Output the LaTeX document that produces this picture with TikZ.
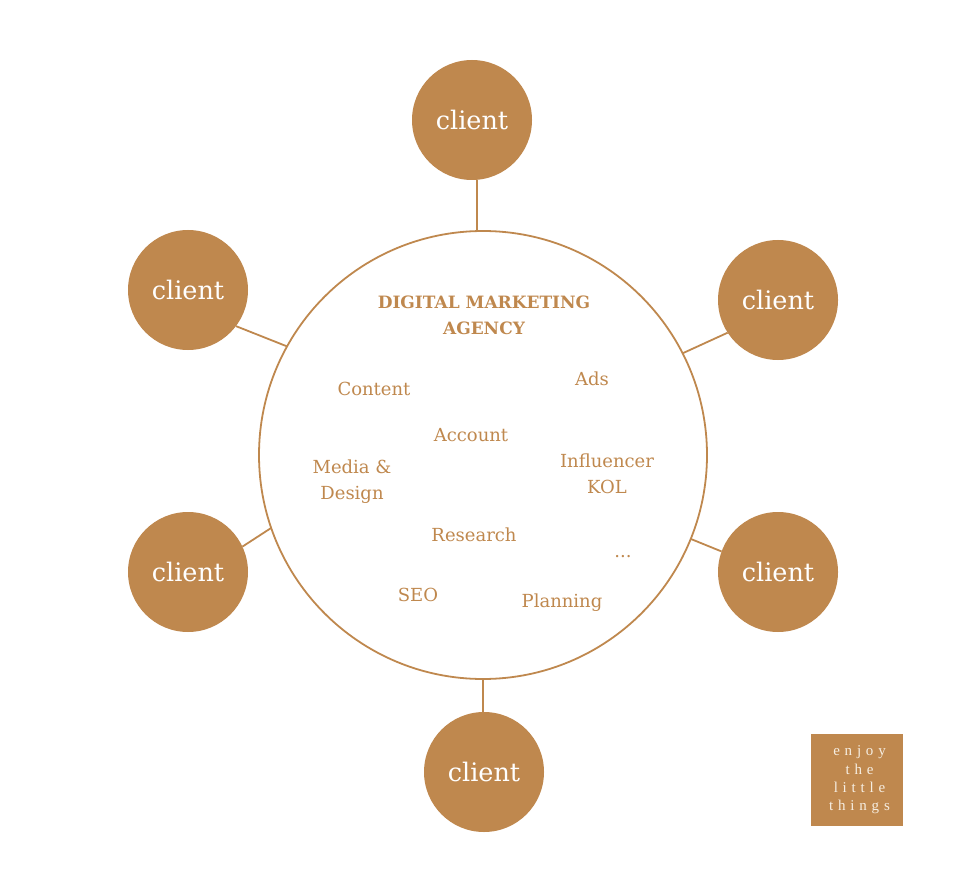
\documentclass[tikz,border=0pt]{standalone}
\usepackage{fontspec}
\setmainfont{DejaVu Serif}
\newfontfamily\tagfont[LetterSpace=32]{Liberation Serif}
\definecolor{brown}{HTML}{BF884E}
\definecolor{cream}{HTML}{F6EEE2}
\tikzset{
  client/.style={circle, fill=brown, minimum size=120pt, inner sep=0pt, outer sep=0pt, text=white, font=\fontsize{25.5}{30}\selectfont},
  link/.style={draw=brown, line width=1.8pt},
  lbl/.style={text=brown, font=\fontsize{18}{26}\selectfont, align=center, inner sep=0pt},
}
\begin{document}
\begin{tikzpicture}[x=1pt,y=-1pt]
\useasboundingbox (0,0) rectangle (968,890);
\node[circle, draw=brown, line width=1.8pt, minimum size=448pt, inner sep=0pt, outer sep=0pt] (agency) at (483,455) {};
\node[client] (c1) at (472,120) {client};
\node[client] (c2) at (188,290) {client};
\node[client] (c3) at (778,300) {client};
\node[client] (c4) at (188,572) {client};
\node[client] (c5) at (778,572) {client};
\node[client] (c6) at (484,772) {client};
\draw[link] (c1.-85) -- (c1.-85 |- agency.north);
\draw[link] (c2.-37.5) -- (agency.151.7);
\draw[link] (c3.213.2) -- (agency.27.6);
\draw[link] (c4.25.7) -- (agency.199.9);
\draw[link] (c5.160.3) -- (agency.-22.6);
\draw[link] (agency.south) -- (agency.south |- c6.north);
\node[lbl, font=\fontsize{17}{26}\selectfont\bfseries] (title) at (484,315) {DIGITAL MARKETING\\AGENCY};
\node[lbl] (content) at (374,389) {Content};
\node[lbl] (ads) at (592,379) {Ads};
\node[lbl] (account) at (471,435) {Account};
\node[lbl] (media) at (352,482) {Media \&\\Design};
\node[lbl] (infl) at (607,474) {Influencer\\KOL};
\node[lbl] (research) at (474,535) {Research};
\node[lbl] (dots) at (623,557) {...};
\node[lbl] (seo) at (418,595) {SEO};
\node[lbl] (plan) at (562,603) {Planning};
\node[fill=brown, minimum width=92pt, minimum height=92pt, inner sep=0pt] (tag) at (857,780) {};
\node[text=cream, align=center, font=\tagfont\fontsize{15}{18.4}\selectfont, inner sep=0pt] (tagtext) at (859.5,780) {enjoy\\the\\little\\things};
\end{tikzpicture}
\end{document}
